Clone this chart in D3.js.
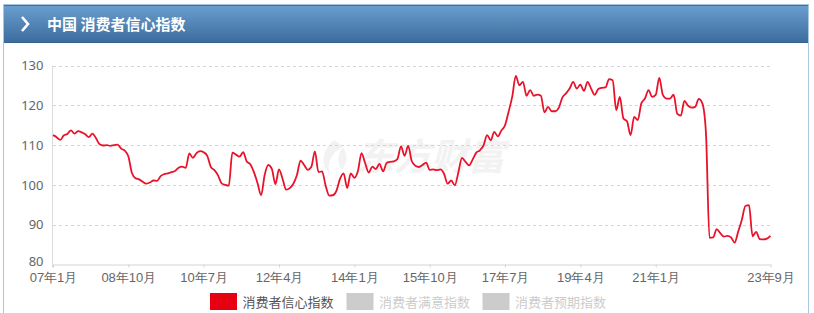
<!DOCTYPE html>
<html><head><meta charset="utf-8">
<script src="https://cdn.jsdelivr.net/npm/d3@7/dist/d3.min.js"></script>
<style>
html,body{margin:0;padding:0;background:#fff;}
svg{display:block;font-family:"Noto Sans CJK SC","Noto Sans",sans-serif;}
</style></head>
<body>
<svg id="c" width="814" height="313"></svg>
<script>
const title = "中国 消费者信心指数";
const startYear = 2007, startMonth = 1, monthCount = 201;
const cciValues = [
112.5,112.0,111.3,112.4,112.8,113.7,112.9,113.5,113.2,112.7,112.0,112.9,
111.7,110.2,109.9,110.0,109.8,110.0,110.1,109.1,108.6,107.2,103.0,101.7,
101.4,100.8,100.3,100.6,101.1,101.0,102.2,102.7,102.9,103.2,103.5,104.3,
104.6,104.3,107.9,106.8,108.0,108.5,108.2,107.3,104.5,103.7,102.4,100.4,
100.0,99.8,108.1,107.6,107.1,108.2,105.9,105.2,103.2,100.5,97.4,102.5,
105.0,104.0,100.2,103.9,101.5,98.8,99.2,100.3,102.5,106.1,105.0,103.8,
104.5,108.4,103.2,103.4,99.8,97.3,97.4,98.5,101.5,102.9,99.2,102.9,
101.8,103.5,108.0,105.5,103.1,104.6,104.0,105.3,103.4,105.5,105.8,105.9,
106.5,109.7,107.3,109.8,106.0,104.8,104.5,105.0,105.6,103.8,103.9,103.7,
103.9,102.8,100.3,101.1,99.9,103.2,106.8,105.8,104.9,106.4,108.1,108.7,
109.9,112.5,111.2,113.3,112.2,113.7,115.0,118.4,122.1,127.4,125.0,125.9,
122.4,123.8,122.4,122.7,122.4,118.2,119.6,118.5,118.5,119.4,122.0,123.0,
124.2,125.9,124.2,125.2,123.6,125.9,124.2,122.6,124.1,124.4,124.5,126.6,
126.3,118.8,122.1,116.7,116.0,112.5,117.1,116.3,120.5,121.7,123.8,122.1,
122.6,126.9,122.6,121.7,121.7,122.7,117.9,117.4,121.1,119.9,119.4,119.6,
121.6,120.5,113.2,86.7,86.8,88.9,87.9,87.0,87.2,86.8,85.5,88.3,
91.2,94.7,94.9,87.1,88.2,86.4,86.3,86.5,87.2
];
const xTickLabels = ["07年1月","08年10月","10年7月","12年4月","14年1月","15年10月","17年7月","19年4月","21年1月","23年9月"];
const yTicks = [80,90,100,110,120,130];
const legendNames = ["消费者信心指数","消费者满意指数","消费者预期指数"];
const legendColors = ["#e60012","#cccccc","#cccccc"];
const legendTextColors = ["#555555","#cccccc","#cccccc"];

const categories = [];
for (let k = 0; k < monthCount; k++) {
  const m = startMonth - 1 + k;
  const yy = (startYear + Math.floor(m / 12)) % 100;
  categories.push(String(yy).padStart(2,"0") + "年" + (m % 12 + 1) + "月");
}

const svg = d3.select("#c");
const defs = svg.append("defs");
const g = defs.append("linearGradient").attr("id","hg").attr("x1",0).attr("y1",0).attr("x2",0).attr("y2",1);
g.append("stop").attr("offset","0%").attr("stop-color","#6a9fcf");
g.append("stop").attr("offset","100%").attr("stop-color","#3b6b9c");

// frame
svg.append("rect").attr("x",3.5).attr("y",4.5).attr("width",805).attr("height",320)
  .attr("fill","#fff").attr("stroke","#a9c5df");
// header
svg.append("rect").attr("x",4).attr("y",5).attr("width",804).attr("height",38).attr("fill","url(#hg)");
svg.append("line").attr("x1",4).attr("x2",808).attr("y1",5.5).attr("y2",5.5).attr("stroke","#3f6f9f");
svg.append("line").attr("x1",4).attr("x2",808).attr("y1",42.5).attr("y2",42.5).attr("stroke","#35628f");
svg.append("path").attr("d","M22,17 L28,24 L22,31").attr("fill","none").attr("stroke","#fff").attr("stroke-width",2.6);
svg.append("text").attr("x",47).attr("y",29.5).attr("fill","#fff").attr("font-size",15).attr("font-weight","bold").text(title);

// watermark
const wm = svg.append("g").attr("fill","#f2f2f2");
wm.append("path").attr("d","M334,140 C322,150 320,165 330,174 C326,163 332,152 344,146 C338,152 336,162 342,170 C350,160 348,148 334,140 Z");
wm.append("text").attr("x",357).attr("y",170).attr("font-size",37).attr("font-weight","bold").attr("font-style","italic").text("东方财富");

const x = d3.scalePoint().domain(categories).range([53, 770.5]);
const y = d3.scaleLinear().domain([80,130]).range([264.5, 65.5]);

// gridlines
svg.append("g").selectAll("line").data(yTicks.filter(v => v > 80)).join("line")
  .attr("x1",53).attr("x2",770).attr("y1",d => Math.round(y(d))+0.5).attr("y2",d => Math.round(y(d))+0.5)
  .attr("stroke","#d4d4d4").attr("stroke-dasharray","3,3");

// y axis
const ya = svg.append("g").attr("transform","translate(52.5,0)")
  .call(d3.axisLeft(y).tickValues(yTicks).tickSize(0).tickPadding(9));
ya.select(".domain").attr("stroke","#dcdcdc").attr("d","M0,"+y(130)+"V"+(y(80)+3));
ya.selectAll("text").attr("fill","#666").attr("font-size",13).attr("font-family","'Noto Sans','Noto Sans CJK SC',sans-serif");
ya.selectAll(".tick").filter(d => d === 80).select("text").attr("y",-3);

// x axis
const xa = svg.append("g").attr("transform","translate(0,264.5)")
  .call(d3.axisBottom(x).tickValues(xTickLabels).tickSize(3).tickPadding(5).tickSizeOuter(0));
xa.select(".domain").attr("stroke","#d4d4d4");
xa.selectAll(".tick line").attr("stroke","#d4d4d4");
xa.selectAll("text").attr("fill","#666").attr("font-size",13);

// line
const line = d3.line().x((d,i) => x(categories[i])).y(d => y(d)).curve(d3.curveMonotoneX);
svg.append("path").datum(cciValues).attr("d",line).attr("fill","none")
  .attr("stroke","#e8132b").attr("stroke-width",1.8).attr("stroke-linejoin","round");

// legend
const legX = [210, 346.5, 482.5];
const leg = svg.append("g");
legendNames.forEach((n,k) => {
  leg.append("rect").attr("x",legX[k]).attr("y",293).attr("width",27).attr("height",17).attr("fill",legendColors[k]);
  leg.append("text").attr("x",legX[k]+32.5).attr("y",306.5).attr("font-size",13).attr("fill",legendTextColors[k]).text(n);
});
</script>
</body></html>
